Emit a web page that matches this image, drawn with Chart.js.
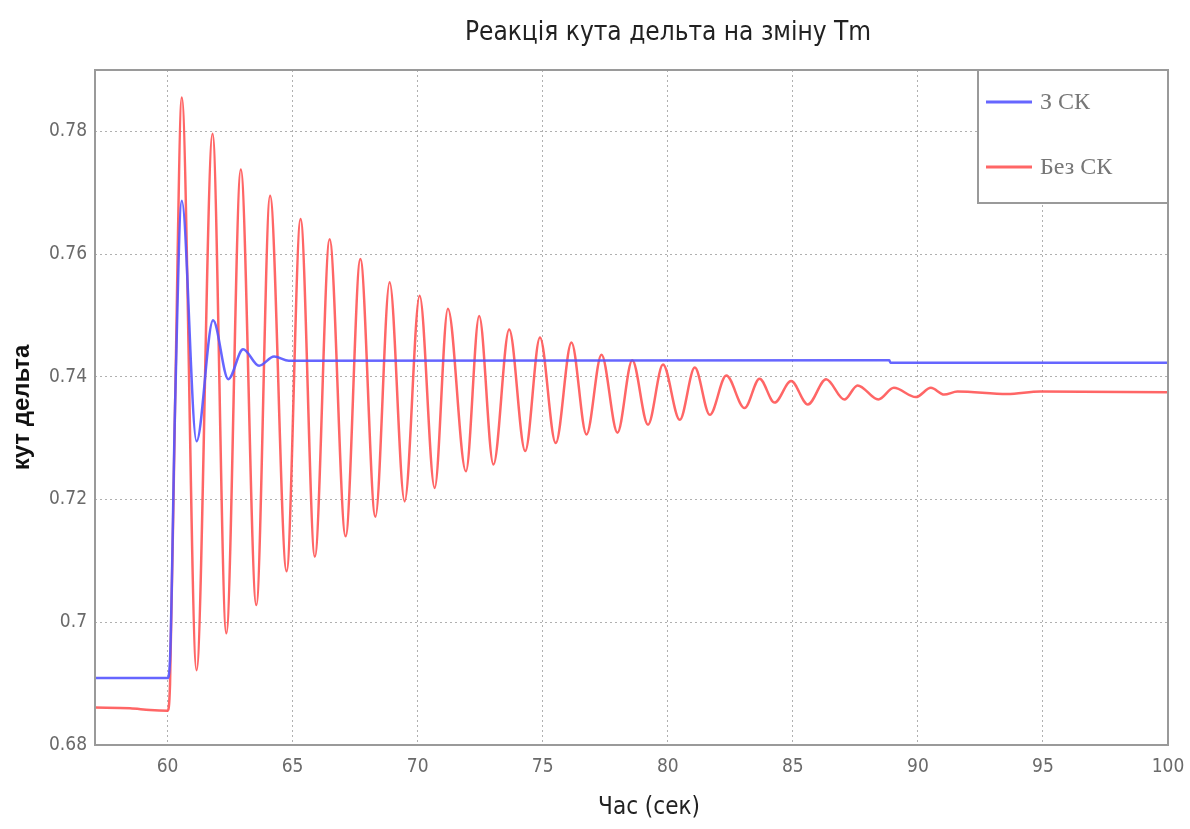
<!DOCTYPE html>
<html>
<head>
<meta charset="utf-8">
<script src="https://cdn.jsdelivr.net/npm/chart.js@4.4.1/dist/chart.umd.min.js"></script>
<style>
  body { margin: 0; background: #fff; }
  #wrap { width: 1190px; height: 829px; }
</style>
</head>
<body>
<div id="wrap"><canvas id="deltaChart" width="1190" height="829"></canvas></div>
<script>
// Дані
var xTicks = [60, 65, 70, 75, 80, 85, 90, 95, 100];
var yTicks = [0.68, 0.70, 0.72, 0.74, 0.76, 0.78];

// З СК
var blueTime = [57.1, 60.0, 60.1, 60.3, 60.57, 61.16, 61.82, 62.43, 63.02, 63.66, 64.26, 64.85, 88.86, 88.9, 100];
var blueValue = [0.6909, 0.6909, 0.694, 0.735, 0.7687, 0.7295, 0.7492, 0.7396, 0.7445, 0.7418, 0.7433, 0.7426, 0.7427, 0.7423, 0.7423];

// Без СК
var redTime = [57.1, 58.5, 59.3, 60.0, 60.1, 60.3, 60.57,
  61.16, 61.80, 62.35, 62.93, 63.55, 64.10, 64.76, 65.32, 65.89, 66.48,
  67.12, 67.71, 68.31, 68.88, 69.48, 70.08, 70.68, 71.21, 71.93, 72.46,
  73.03, 73.66, 74.30, 74.89, 75.52, 76.15, 76.75, 77.35, 77.99, 78.58,
  79.21, 79.81, 80.48, 81.08, 81.68, 82.34, 83.07, 83.67, 84.27, 84.93,
  85.60, 86.33, 87.06, 87.59, 88.42, 89.04, 89.92, 90.52, 91.05, 91.58,
  93.57, 94.9, 100];
var redValue = [0.6861, 0.6860, 0.6857, 0.6856, 0.690, 0.735, 0.7855,
  0.6922, 0.7796, 0.6982, 0.7738, 0.7028, 0.7695, 0.7083, 0.7657, 0.7107, 0.7624,
  0.7140, 0.7592, 0.7172, 0.7554, 0.7197, 0.7532, 0.7219, 0.7511, 0.7246, 0.7499,
  0.7257, 0.7477, 0.7279, 0.7464, 0.7292, 0.7456, 0.7306, 0.7436, 0.7309, 0.7427,
  0.7322, 0.7420, 0.7330, 0.7415, 0.7338, 0.7402, 0.7349, 0.7397, 0.7358, 0.7393,
  0.7355, 0.7396, 0.7363, 0.7386, 0.7363, 0.7382, 0.7367, 0.7382, 0.7371, 0.7376,
  0.7372, 0.7376, 0.7375];

function toPoints(xs, ys) {
  return xs.map(function (x, i) { return { x: x, y: ys[i] }; });
}

var condFont = "'DejaVu Sans Condensed', 'Liberation Sans Narrow', sans-serif";

// Заголовки, рамка та легенда
var decorPlugin = {
  id: "decor",
  afterDraw: function (chart) {
    var c = chart.ctx, a = chart.chartArea;
    c.save();
    // рамка області графіка
    c.strokeStyle = "#9a9a9a";
    c.lineWidth = 2;
    c.strokeRect(a.left, a.top, a.right - a.left, a.bottom - a.top);

    // заголовок
    c.fillStyle = "#222";
    c.textAlign = "center";
    c.textBaseline = "middle";
    c.font = "26px " + condFont;
    c.fillText("Реакція кута дельта на зміну Tm", 668, 33);
    c.font = "24px " + condFont;
    c.fillText("Час (сек)", 649, 808);

    // легенда
    var w = 190, h = 133, lx = a.right - w, ly = a.top;
    c.fillStyle = "#fff";
    c.fillRect(lx, ly, w, h);
    c.strokeStyle = "#9a9a9a";
    c.lineWidth = 2;
    c.strokeRect(lx, ly, w, h);
    c.textAlign = "left";
    c.font = "24px 'Liberation Serif', serif";
    chart.data.datasets.forEach(function (ds, i) {
      var yy = ly + 32 + i * 65;
      c.strokeStyle = ds.borderColor;
      c.lineWidth = 3;
      c.beginPath();
      c.moveTo(lx + 8, yy);
      c.lineTo(lx + 54, yy);
      c.stroke();
      c.fillStyle = "#777";
      c.fillText(ds.label, lx + 62, yy + 1);
    });
    c.restore();
  }
};

var ctx = document.getElementById("deltaChart");
var deltaChart = new Chart(ctx, {
  type: "line",
  data: {
    datasets: [
      {
        label: "З СК",
        data: toPoints(blueTime, blueValue),
        borderColor: "rgba(85, 85, 255, 0.9)",
        borderWidth: 2.5,
        pointRadius: 0,
        cubicInterpolationMode: "monotone",
        fill: false
      },
      {
        label: "Без СК",
        data: toPoints(redTime, redValue),
        borderColor: "rgba(255, 85, 85, 0.9)",
        borderWidth: 2.5,
        pointRadius: 0,
        cubicInterpolationMode: "monotone",
        fill: false
      }
    ]
  },
  options: {
    responsive: false,
    animation: false,
    layout: { padding: { left: 0, right: 22, top: 70, bottom: 0 } },
    plugins: {
      legend: { display: false },
      title: { display: false },
      tooltip: { enabled: false }
    },
    scales: {
      x: {
        type: "linear",
        min: 57.1,
        max: 100,
        afterBuildTicks: function (scale) {
          scale.ticks = xTicks.map(function (v) { return { value: v }; });
        },
        afterFit: function (scale) {
          scale.height = 84;
          scale.paddingLeft = 0;
          scale.paddingRight = 0;
        },
        grid: { color: "#b0b0b0", lineWidth: 1, tickLength: 0 },
        border: { display: false, dash: [2, 3] },
        ticks: {
          color: "#6a6a6a",
          padding: 11,
          maxRotation: 0,
          font: { family: condFont, size: 19 }
        }
      },
      y: {
        min: 0.68,
        max: 0.79,
        afterBuildTicks: function (scale) {
          scale.ticks = yTicks.map(function (v) { return { value: v }; });
        },
        afterFit: function (scale) {
          scale.width = 95;
          scale.paddingTop = 0;
          scale.paddingBottom = 0;
        },
        grid: { color: "#b0b0b0", lineWidth: 1, tickLength: 0 },
        border: { display: false, dash: [2, 3] },
        ticks: {
          color: "#6a6a6a",
          padding: 8,
          font: { family: condFont, size: 19 },
          callback: function (v) { return String(Number(v.toFixed(2))); }
        },
        title: {
          display: true,
          text: "кут дельта",
          color: "#111",
          padding: { top: 8, bottom: 0 },
          font: { family: "'Liberation Sans', Arial, sans-serif", size: 24, weight: "bold" }
        }
      }
    }
  },
  plugins: [decorPlugin]
});
</script>
</body>
</html>
